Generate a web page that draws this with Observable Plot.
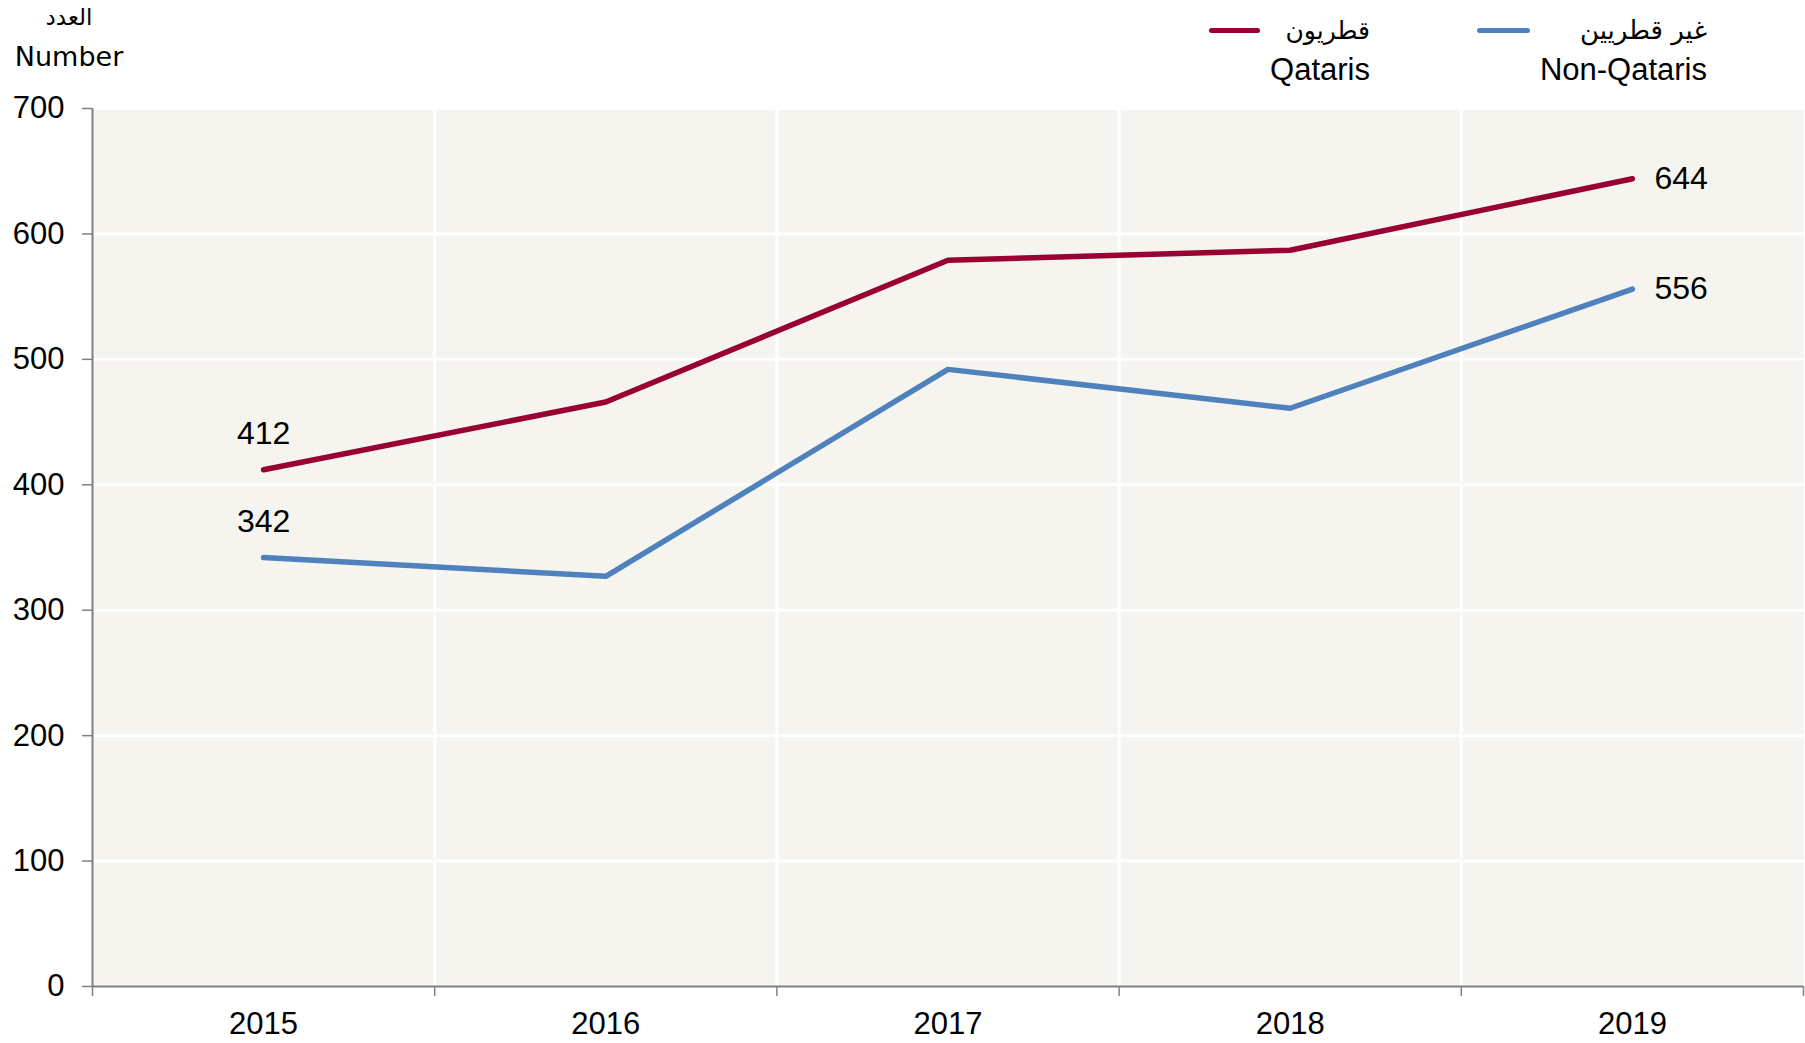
<!DOCTYPE html>
<html><head><meta charset="utf-8">
<script src="https://cdn.jsdelivr.net/npm/d3@7"></script>
<script src="https://cdn.jsdelivr.net/npm/@observablehq/plot@0.6"></script>
<style>
body{margin:0;background:#fff;font-family:"Liberation Sans",Arial,"DejaVu Sans",sans-serif;}
#wrap{position:relative;width:1805px;height:1043px;overflow:hidden;}
#wrap svg{position:absolute;left:0;top:0;}
.t{position:absolute;white-space:nowrap;line-height:1;color:#000;}
.sw{position:absolute;height:5px;border-radius:3px;}
</style></head><body><div id="wrap"></div>
<script>
const years = [2015, 2016, 2017, 2018, 2019];
const qataris = [412, 466, 579, 587, 644];
const nonQataris = [342, 327, 492, 461, 556];
const seriesNames = ["Qataris", "Non-Qataris"];
const seriesArabic = ["قطريون", "غير قطريين"];
const seriesColors = ["#990033", "#4f81bd"];
const yTicks = [0, 100, 200, 300, 400, 500, 600, 700];
const yTitleAr = "العدد";
const yTitleEn = "Number";

const seriesValues = [qataris, nonQataris];
const rows = [];
seriesNames.forEach((s, i) => years.forEach((y, j) => rows.push({series: s, year: y, value: seriesValues[i][j]})));
const xDomain = [years[0] - 0.5, years[years.length - 1] + 0.5];
const bounds = years.map(y => y + 0.5);
const allBounds = [xDomain[0], ...bounds];
const innerBounds = bounds.slice(0, -1);
const firstRows = rows.filter(d => d.year === years[0]);
const lastRows = rows.filter(d => d.year === years[years.length - 1]);

const chart = Plot.plot({
  width: 1805,
  height: 1043,
  marginTop: 108,
  marginBottom: 57,
  marginLeft: 92,
  marginRight: 2,
  style: {fontFamily: '"Liberation Sans", Arial, sans-serif', fontSize: "31px", color: "#000", background: "transparent"},
  x: {type: "linear", domain: xDomain, axis: null, label: null},
  y: {domain: [0, 700], axis: null, label: null},
  color: {domain: seriesNames, range: seriesColors},
  marks: [
    Plot.frame({fill: "#f5f4ee", stroke: null}),
    Plot.gridY(yTicks.slice(1), {stroke: "#ffffff", strokeOpacity: 1, strokeWidth: 3}),
    Plot.gridX(innerBounds, {stroke: "#ffffff", strokeOpacity: 1, strokeWidth: 3}),
    Plot.axisY(yTicks, {label: null, tickSize: 10, tickPadding: 18, stroke: "#808080", strokeWidth: 1.5, fontSize: 31, tickFormat: d => String(d)}),
    Plot.axisX(allBounds, {label: null, tickSize: 10, tickFormat: () => "", stroke: "#808080", strokeWidth: 1.5}),
    Plot.axisX(years, {label: null, tickSize: 0, tickPadding: 25, fontSize: 31, tickFormat: d => String(d)}),
    Plot.ruleY([0], {stroke: "#808080", strokeWidth: 2}),
    Plot.ruleX([xDomain[0]], {stroke: "#808080", strokeWidth: 2}),
    Plot.line(rows, {x: "year", y: "value", z: "series", stroke: "series", strokeWidth: 5.5, strokeLinecap: "round", strokeLinejoin: "round"}),
    Plot.text(firstRows, {x: "year", y: "value", text: d => String(d.value), dy: -36, fontSize: 32, fill: "#000"}),
    Plot.text(lastRows, {x: "year", y: "value", text: d => String(d.value), dx: 22, textAnchor: "start", fontSize: 32, fill: "#000"})
  ]
});
const wrap = document.getElementById("wrap");
wrap.appendChild(chart);

function addText(txt, x, y, size, family, align) {
  const d = document.createElement("div");
  d.className = "t";
  d.textContent = txt;
  d.style.left = x + "px";
  d.style.top = y + "px";
  d.style.fontSize = size + "px";
  if (family) d.style.fontFamily = family;
  d.style.transform = align === "right" ? "translate(-100%,-50%)" : "translate(-50%,-50%)";
  wrap.appendChild(d);
}
addText(yTitleAr, 69, 17, 23, '"DejaVu Sans", sans-serif', "center");
addText(yTitleEn, 69, 56, 27, '"DejaVu Sans", sans-serif', "center");

const legendLayout = [{lx: 1209, lw: 51, tx: 1370, ar: 25}, {lx: 1477, lw: 53, tx: 1707, ar: 26}];
seriesNames.forEach((s, i) => {
  const L = legendLayout[i];
  const sw = document.createElement("div");
  sw.className = "sw";
  sw.style.left = L.lx + "px";
  sw.style.width = L.lw + "px";
  sw.style.top = "28px";
  sw.style.background = seriesColors[i];
  wrap.appendChild(sw);
  addText(seriesArabic[i], L.tx, 30, L.ar, '"DejaVu Sans", sans-serif', "right");
  addText(s, L.tx, 69, 31, null, "right");
});
</script></body></html>
